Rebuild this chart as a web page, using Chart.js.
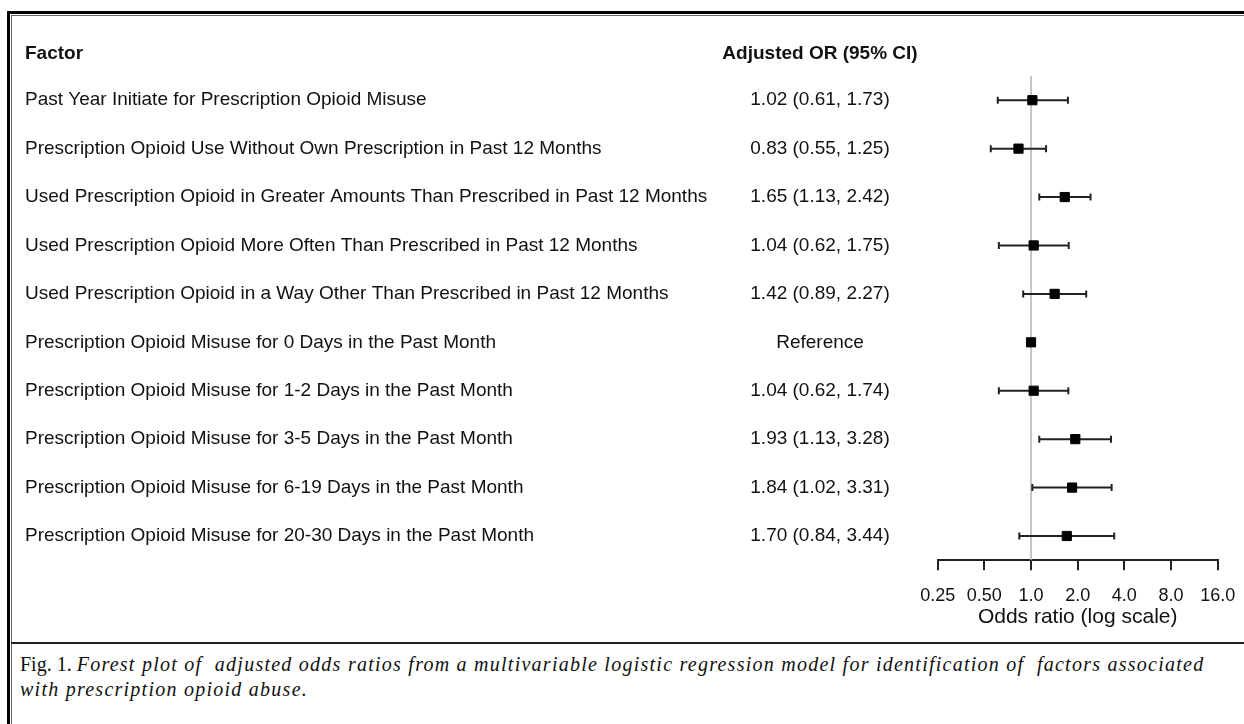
<!DOCTYPE html>
<html>
<head>
<meta charset="utf-8">
<script src="https://cdn.jsdelivr.net/npm/chart.js@4/dist/chart.umd.min.js"></script>
<style>
  body { margin: 0; background: #fff; }
  #wrap { position: relative; width: 1244px; height: 724px; overflow: hidden; background: #fff; }
  #plot { position: absolute; left: 0; top: 0; }
  .line { position: absolute; }
  #caption {
    position: absolute; left: 20px; top: 652px; width: 1300px; white-space: nowrap;
    font-family: "Liberation Serif", "Times New Roman", serif;
    font-size: 20px; line-height: 25px; color: #111;
  }
  #caption i { font-style: italic; letter-spacing: 1.25px; }
</style>
</head>
<body>
<div id="wrap">
  <!-- canvas runs past the right edge so the last tick label does not squeeze the plot -->
  <canvas id="plot" width="1300" height="643"></canvas>
  <!-- frame: double rule top and left, single rule above caption -->
  <div class="line" style="left:7px;right:0;top:11px;height:3px;background:#000"></div>
  <div class="line" style="left:11px;right:0;top:15px;height:1px;background:#666"></div>
  <div class="line" style="left:7px;top:11px;bottom:0;width:3px;background:#000"></div>
  <div class="line" style="left:11px;top:15px;bottom:0;width:1px;background:#666"></div>
  <div class="line" style="left:11px;right:0;top:642px;height:2px;background:#222"></div>
  <div id="caption">Fig. 1. <i>Forest plot of&nbsp; adjusted odds ratios from a multivariable logistic regression model for identification of&nbsp; factors associated</i><br><i>with prescription opioid abuse.</i></div>
</div>
<script>
const factors = [
  'Past Year Initiate for Prescription Opioid Misuse',
  'Prescription Opioid Use Without Own Prescription in Past 12 Months',
  'Used Prescription Opioid in Greater Amounts Than Prescribed in Past 12 Months',
  'Used Prescription Opioid More Often Than Prescribed in Past 12 Months',
  'Used Prescription Opioid in a Way Other Than Prescribed in Past 12 Months',
  'Prescription Opioid Misuse for 0 Days in the Past Month',
  'Prescription Opioid Misuse for 1-2 Days in the Past Month',
  'Prescription Opioid Misuse for 3-5 Days in the Past Month',
  'Prescription Opioid Misuse for 6-19 Days in the Past Month',
  'Prescription Opioid Misuse for 20-30 Days in the Past Month'
];
const oddsRatio = [1.02, 0.83, 1.65, 1.04, 1.42, 1.0, 1.04, 1.93, 1.84, 1.70];
const ciLower   = [0.61, 0.55, 1.13, 0.62, 0.89, null, 0.62, 1.13, 1.02, 0.84];
const ciUpper   = [1.73, 1.25, 2.42, 1.75, 2.27, null, 1.74, 3.28, 3.31, 3.44];
const orLabels = [
  '1.02 (0.61, 1.73)', '0.83 (0.55, 1.25)', '1.65 (1.13, 2.42)', '1.04 (0.62, 1.75)',
  '1.42 (0.89, 2.27)', 'Reference', '1.04 (0.62, 1.74)', '1.93 (1.13, 3.28)',
  '1.84 (1.02, 3.31)', '1.70 (0.84, 3.44)'
];
const xTicks = [0.25, 0.5, 1, 2, 4, 8, 16];
const xTickLabels = ['0.25', '0.50', '1.0', '2.0', '4.0', '8.0', '16.0'];

const FONT = '"Liberation Sans", Arial, sans-serif';
const TEXT = '#111';

// rows that have a confidence interval
const ciRows = factors.map((f, i) => i).filter(i => ciLower[i] !== null);

const whiskers = ciRows.map(i => ({
  data: [{ x: ciLower[i], y: i + 1 }, { x: ciUpper[i], y: i + 1 }],
  showLine: true,
  borderColor: '#222',
  borderWidth: 2,
  pointRadius: 0
}));

// left-hand table text, placed on the same y scale as the markers
const tableText = {
  id: 'tableText',
  afterDraw(chart) {
    const ctx = chart.ctx;
    const y = chart.scales.y;
    ctx.save();
    ctx.fillStyle = TEXT;
    ctx.textBaseline = 'middle';
    const headY = y.getPixelForValue(1) - 46;
    ctx.font = 'bold 19px ' + FONT;
    ctx.textAlign = 'left';
    ctx.fillText('Factor', 25, headY);
    ctx.textAlign = 'center';
    ctx.fillText('Adjusted OR (95% CI)', 820, headY);
    ctx.font = '19px ' + FONT;
    factors.forEach((f, i) => {
      const py = y.getPixelForValue(i + 1);
      ctx.textAlign = 'left';
      ctx.fillText(f, 25, py);
      ctx.textAlign = 'center';
      ctx.fillText(orLabels[i], 820, py);
    });
    ctx.restore();
  }
};

// first dataset is painted last (on top)
new Chart(document.getElementById('plot').getContext('2d'), {
  type: 'scatter',
  data: {
    datasets: [
      {
        data: oddsRatio.map((v, i) => ({ x: v, y: i + 1 })),
        pointStyle: 'rect',
        radius: 6.5,
        backgroundColor: '#000',
        borderColor: '#000',
        borderWidth: 1
      },
      {
        data: ciRows.flatMap(i => [{ x: ciLower[i], y: i + 1 }, { x: ciUpper[i], y: i + 1 }]),
        pointStyle: 'line',
        rotation: 90,
        radius: 3.5,
        borderColor: '#222',
        borderWidth: 2
      },
      ...whiskers,
      {
        data: [{ x: 1, y: 0.5 }, { x: 1, y: 10.5 }],
        showLine: true,
        borderColor: '#b4b4b4',
        borderWidth: 1.5,
        pointRadius: 0
      }
    ]
  },
  options: {
    responsive: false,
    animation: false,
    layout: { padding: { left: 937.7, right: 82.3, top: 76, bottom: 13 } },
    plugins: { legend: { display: false }, tooltip: { enabled: false } },
    scales: {
      x: {
        type: 'logarithmic',
        position: 'bottom',
        min: 0.25,
        max: 16,
        afterBuildTicks: scale => { scale.ticks = xTicks.map(v => ({ value: v })); },
        grid: { drawOnChartArea: false, drawTicks: true, tickLength: 10, color: '#222', lineWidth: 2 },
        border: { display: true, color: '#222', width: 2 },
        ticks: {
          autoSkip: false,
          maxRotation: 0,
          padding: 15,
          color: TEXT,
          font: { family: FONT, size: 18 },
          callback: (v, i) => xTickLabels[i]
        },
        title: {
          display: true,
          text: 'Odds ratio (log scale)',
          color: TEXT,
          font: { family: FONT, size: 21 },
          padding: { top: -17, bottom: 0 }
        }
      },
      y: {
        type: 'linear',
        display: false,
        reverse: true,
        min: 0.5,
        max: 10.5
      }
    }
  },
  plugins: [tableText]
});
</script>
</body>
</html>
